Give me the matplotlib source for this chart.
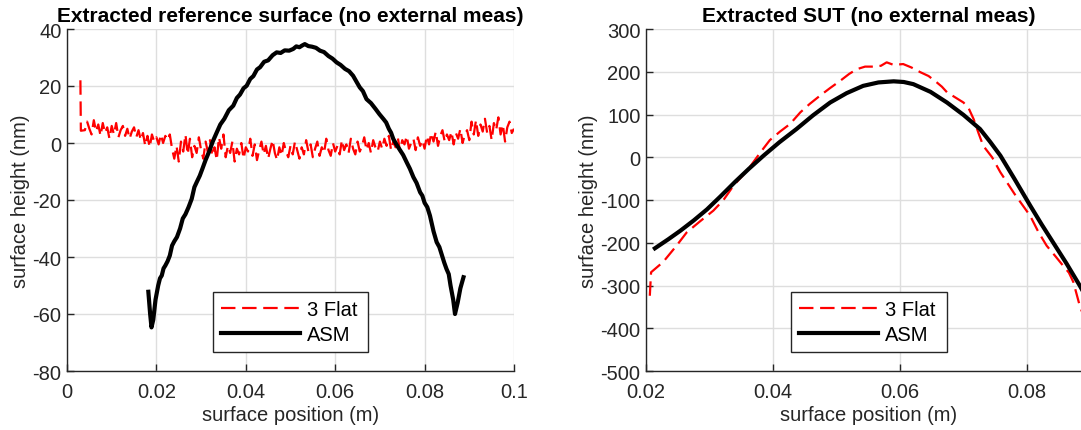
import matplotlib
matplotlib.use("Agg")
import matplotlib.pyplot as plt
import numpy as np

plt.rcParams['font.family'] = ['Liberation Sans', 'DejaVu Sans']
plt.rcParams['axes.unicode_minus'] = False

# ---------------- Left panel data ----------------
# initial spike at the left end, then noisy trace sampled evenly 0.004 .. 0.1
flat_left_spike_x = [0.0030, 0.0031]
flat_left_spike_y = [22.0, 4.3]
flat_left_noise_y = [
    4.5, 7.5, 5.0, 3.0, 8.0, 4.0, 6.5, 2.5, 7.0, 3.5, 5.5, 1.5, 6.0, 3.0, 7.0,
    2.0, 4.5, 6.0, 2.5, 5.0, 1.5, 4.0, 5.5, 2.0, 4.5,
    1.0, 3.5, -1.0, 2.5, -1.5, 3.0, 0.5, 2.0, -0.5, 3.0, 0.0, 2.5, 1.0, 3.0,
    -2.0, -5.5, -1.0, -6.5, 0.5, -3.0, 3.0, -4.0, 1.5, -5.0, -1.0, -3.5, 2.0,
    -2.5, -5.5, 0.5, -3.0, 1.0, -4.5, -1.5, -6.0, 2.0, -2.0, 3.0, -5.0, -1.0,
    -3.5, 0.5, -6.5, -2.0, -4.0, 0.0, -5.5, -1.5, -3.0, 1.5, -4.5, -0.5, -6.0,
    -2.5, 0.5, -4.0, -1.0, -5.5, -2.0, 1.0, -3.5, -6.0, -1.5, -4.5, 0.0, -3.0,
    -5.0, -1.0, -4.0, 0.5, -2.5, -5.5, -1.5, -4.0, 1.0, -3.0, -0.5, -5.0, -2.0,
    0.5, -4.5, -1.5, -3.5, 1.5, -2.5, -4.5, 0.0, -3.0, -1.0, -4.0, 1.0, -2.5,
    -0.5, -3.5, 1.5, -2.0, -4.0, 0.5, -3.0, -1.0, 2.0, -2.5, 0.0, -3.5, 1.0,
    -1.5, -3.0, 0.5,
    -2.0, 1.5, -1.0, 2.5, -2.5, 0.5, -1.5, 2.0, -3.0, 1.0, -0.5, 2.5, -2.0,
    0.0, 1.5, -2.5, 2.0, -1.0, 1.0, -2.0,
    2.5, -0.5, 3.5, 0.5, 4.0, -1.0, 2.5, 4.5, 0.5, 3.0, 1.0, 4.0, -0.5, 3.5,
    1.5, 5.0, 0.0, 3.0, 4.5, 1.0,
    7.5, 3.0, 8.0, 2.5, 6.5, 4.0, 8.5, 3.5, 6.0, 1.0, 7.0, 4.5, 9.0, 3.0, 6.5,
    0.5, 5.5, 7.5, 3.5, 5.0]
flat_left_noise_x = list(np.linspace(0.004, 0.1, len(flat_left_noise_y)))
flat_left_x = flat_left_spike_x + flat_left_noise_x
flat_left_y = flat_left_spike_y + flat_left_noise_y

asm_left_x = [0.0182, 0.0186, 0.0189, 0.0193, 0.0198, 0.0204, 0.0208, 0.0212,
              0.0216, 0.0220, 0.0225, 0.0230, 0.0235, 0.0240, 0.0246, 0.0253,
              0.0259, 0.0265, 0.0272, 0.0279, 0.0285, 0.0290, 0.0297, 0.0303,
              0.0310, 0.0318, 0.0326, 0.0335, 0.0343, 0.0352, 0.0362, 0.0372,
              0.0380, 0.0387, 0.0395, 0.0402, 0.0410, 0.0417, 0.0425, 0.0432,
              0.0441, 0.0450, 0.0460, 0.0469, 0.0478, 0.0487, 0.0497, 0.0506,
              0.0513, 0.0520, 0.0526, 0.0532, 0.0540, 0.0548, 0.0557, 0.0566,
              0.0575, 0.0585, 0.0594, 0.0603, 0.0612, 0.0622, 0.0631, 0.0640,
              0.0648, 0.0655, 0.0662, 0.0670, 0.0680, 0.0690, 0.0699, 0.0708,
              0.0714, 0.0720, 0.0725, 0.0730, 0.0738, 0.0745, 0.0752, 0.0760,
              0.0767, 0.0775, 0.0782, 0.0790, 0.0795, 0.0800, 0.0806, 0.0812,
              0.0820, 0.0827, 0.0833, 0.0838, 0.0844, 0.0849, 0.0854, 0.0858,
              0.0864, 0.0868, 0.0874, 0.0880, 0.0887]
asm_left_y = [-52.2, -60.0, -64.7, -62.0, -55.0, -50.0, -47.5, -46.5,
              -44.0, -43.0, -41.5, -39.5, -36.0, -34.5, -33.0, -30.0,
              -26.5, -25.0, -22.5, -19.6, -15.5, -13.8, -11.5, -9.0,
              -6.0, -3.0, 0.5, 3.7, 6.5, 8.5, 11.5, 13.1,
              15.8, 17.0, 19.2, 20.1, 22.5, 23.5, 25.8, 26.6,
              28.5, 29.0, 30.8, 31.8, 31.6, 32.5, 32.4, 33.0,
              33.9, 33.6, 34.2, 34.7, 34.0, 33.8, 33.4, 32.4,
              31.9, 30.5, 29.6, 28.3, 27.4, 26.0, 25.2, 23.6,
              21.4, 19.5, 18.2, 15.4, 14.0, 12.0, 10.1, 8.4,
              7.2, 5.0, 3.6, 1.4, -0.8, -2.5, -4.2, -6.8,
              -9.0, -12.0, -14.0, -17.3, -18.5, -21.0, -22.5, -25.5,
              -31.0, -34.8, -36.5, -39.0, -42.0, -44.2, -46.0, -50.0,
              -55.0, -60.0, -56.0, -51.0, -47.1]

# ---------------- Right panel data ----------------
flat_right_x = [0.0206, 0.0208, 0.0227, 0.0248, 0.0264, 0.0285, 0.0306, 0.0322,
                0.0338, 0.0360, 0.0380, 0.0395, 0.0411, 0.0427, 0.0443, 0.0458,
                0.0474, 0.0490, 0.0506, 0.0520, 0.0532, 0.0545, 0.0558, 0.0570,
                0.0579, 0.0590, 0.0605, 0.0618, 0.0632, 0.0645, 0.0658, 0.0666,
                0.0674, 0.0687, 0.0700, 0.0708, 0.0716, 0.0724, 0.0731, 0.0745,
                0.0758, 0.0780, 0.0805, 0.0818, 0.0831, 0.0845, 0.0857, 0.0866,
                0.0873, 0.0883, 0.0890]
flat_right_y = [-324, -269, -245, -207, -176, -150, -125, -100,
                -66, -30, 11, 40, 60, 78, 105, 125,
                144, 162, 179, 195, 206, 212, 212, 214,
                222, 216, 218, 210, 199, 190, 175, 165,
                152, 140, 128, 115, 89, 55, 27, 0,
                -35, -85, -137, -175, -207, -232, -254, -270,
                -292, -347, -375]

asm_right_x = [0.0214, 0.0235, 0.0254, 0.0275, 0.0296, 0.0317, 0.0340, 0.0362,
               0.0385, 0.0410, 0.0437, 0.0463, 0.0490, 0.0516, 0.0542, 0.0566,
               0.0590, 0.0606, 0.0621, 0.0648, 0.0674, 0.0700, 0.0726, 0.0742,
               0.0758, 0.0780, 0.0805, 0.0823, 0.0841, 0.0862, 0.0883, 0.0900]
asm_right_y = [-213, -192, -172, -148, -122, -92, -58, -27,
               3.6, 35, 66, 98, 128, 150, 167, 175,
               177.6, 176, 171, 153, 128, 99, 66, 36,
               4, -50, -113, -157, -199, -248, -300, -345]

legend_labels = ['3 Flat', 'ASM']
left_title = 'Extracted reference surface (no external meas)'
right_title = 'Extracted SUT (no external meas)'
xlabel = 'surface position (m)'
ylabel = 'surface height (nm)'

W, H = 1081, 431
fig = plt.figure(figsize=(W / 100, H / 100), dpi=100)

ax1 = fig.add_axes([67 / W, (H - 372) / H, 447 / W, 342 / H])
ax2 = fig.add_axes([646 / W, (H - 372) / H, 444.5 / W, 342 / H])

txt = '#262626'
dash = (0, (6.5, 3.0))
FS = 14.5

def style(ax):
    ax.grid(True, color='#dedede', linewidth=1.0)
    ax.set_axisbelow(True)
    for s in ['top', 'right']:
        ax.spines[s].set_visible(False)
    for s in ['left', 'bottom']:
        ax.spines[s].set_color(txt)
        ax.spines[s].set_linewidth(1.0)
    ax.tick_params(direction='in', length=5, width=1.0, colors=txt,
                   labelsize=FS)
    ax.tick_params(axis='x', pad=8)
    ax.tick_params(axis='y', pad=4)
    ax.set_xlabel(xlabel, fontsize=FS, color=txt, labelpad=3)
    ax.set_ylabel(ylabel, fontsize=FS, color=txt, labelpad=2)

# Left
l1, = ax1.plot(flat_left_x, flat_left_y, color='#ff0000', lw=1.6, linestyle=dash)
l2, = ax1.plot(asm_left_x, asm_left_y, color='black', lw=3.0)
ax1.set_xlim(0, 0.1)
ax1.set_ylim(-80, 40)
ax1.set_xticks([0, 0.02, 0.04, 0.06, 0.08, 0.1])
ax1.set_xticklabels(['0', '0.02', '0.04', '0.06', '0.08', '0.1'])
ax1.set_yticks(np.arange(-80, 41, 20))
style(ax1)
ax1.set_title(left_title, fontsize=15, fontweight='bold', pad=5.5)
leg1 = ax1.legend([l1, l2], legend_labels, loc='lower left',
                  bbox_to_anchor=((213 - 67) / 447, (372 - 353) / 342, 155 / 447, 65 / 342),
                  mode='expand', fancybox=False, framealpha=1, edgecolor=txt,
                  fontsize=FS, handlelength=3.9, handletextpad=0.35,
                  borderaxespad=0, labelspacing=0.3, borderpad=0.4)
leg1.get_frame().set_linewidth(1.0)

# Right
r1, = ax2.plot(flat_right_x, flat_right_y, color='#ff0000', lw=1.6, linestyle=dash)
r2, = ax2.plot(asm_right_x, asm_right_y, color='black', lw=3.0)
ax2.set_xlim(0.02, 0.09)
ax2.set_ylim(-500, 300)
ax2.set_xticks([0.02, 0.04, 0.06, 0.08])
ax2.set_xticklabels(['0.02', '0.04', '0.06', '0.08'])
ax2.set_yticks(np.arange(-500, 301, 100))
style(ax2)
ax2.set_title(right_title, fontsize=15, fontweight='bold', pad=5.5)
leg2 = ax2.legend([r1, r2], legend_labels, loc='lower left',
                  bbox_to_anchor=((791 - 646) / 444.5, (372 - 353) / 342, 156 / 444.5, 65 / 342),
                  mode='expand', fancybox=False, framealpha=1, edgecolor=txt,
                  fontsize=FS, handlelength=3.9, handletextpad=0.35,
                  borderaxespad=0, labelspacing=0.3, borderpad=0.4)
leg2.get_frame().set_linewidth(1.0)

fig.savefig('out.png', dpi=100)
